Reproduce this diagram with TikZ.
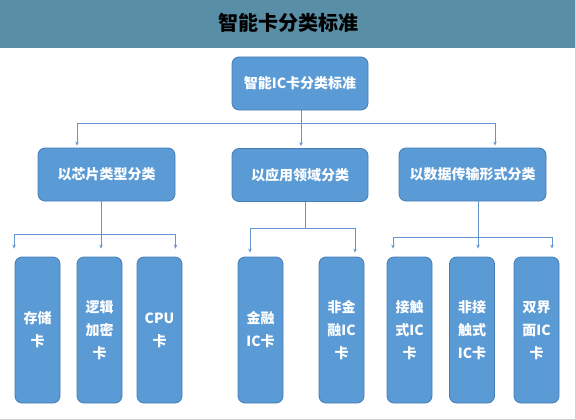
\documentclass[tikz,border=0pt]{standalone}
\usepackage{fontspec}
\setmainfont{Noto Sans CJK SC}
\usetikzlibrary{arrows.meta}
\definecolor{barteal}{RGB}{88,143,166}
\definecolor{boxblue}{RGB}{91,155,213}
\definecolor{boxedge}{RGB}{70,125,180}
\definecolor{linkblue}{RGB}{100,150,205}
\tikzset{
	box/.style={draw=boxedge,fill=boxblue,line width=0.8pt,rounded corners=7pt,
		text=white,font=\fontsize{14}{23}\selectfont\bfseries,align=center,inner sep=0pt},
	leaf/.style={box,minimum width=45pt,minimum height=146pt},
	link/.style={draw=linkblue,line width=0.7pt},
}

\begin{document}
\begin{tikzpicture}[x=1pt,y=-1pt,>={Stealth[length=4pt,width=3.5pt]}]
	\useasboundingbox (0,0) rectangle (576,420);
	\fill[barteal] (0,0) rectangle (575,48);
	\draw[gray!35] (575,0) -- (575,419) -- (0,419);
	\node[font=\fontsize{20}{24}\selectfont\bfseries] (title) at (288,23) {智能卡分类标准};
	\node[box,minimum width=136pt,minimum height=53pt] (root) at (300,83.5) {智能IC卡分类标准};
	\node[box,minimum width=137pt,minimum height=53pt] (c1) at (106.5,174.5) {以芯片类型分类};
	\node[box,minimum width=136pt,minimum height=53pt] (c2) at (300,175) {以应用领域分类};
	\node[box,minimum width=147pt,minimum height=53pt] (c3) at (472.5,174.5) {以数据传输形式分类};
	\node[leaf] (l1) at (37.5,330) {存储\\卡};
	\node[leaf] (l2) at (99.5,330) {逻辑\\加密\\卡};
	\node[leaf] (l3) at (159.5,330) {CPU\\卡};
	\node[leaf] (l4) at (260.5,330) {金融\\IC卡};
	\node[leaf] (l5) at (341.5,330) {非金\\融IC\\卡};
	\node[leaf] (l6) at (409.5,330) {接触\\式IC\\卡};
	\node[leaf] (l7) at (472,330) {非接\\触式\\IC卡};
	\node[leaf] (l8) at (536.5,330) {双界\\面IC\\卡};
	% branch points
	\coordinate (j0) at (301,123);
	\coordinate (j1) at (101,234);
	\coordinate (j2) at (305,228);
	\coordinate (j3) at (478,237);
	% first level
	\draw[link] (root.south -| j0) -- (j0);
	\draw[link,->,shorten >=2pt] (j0) -| ([xshift=-29.5pt]c1.north);
	\draw[link,->,shorten >=2pt] (j0) -- (c2.north -| j0);
	\draw[link,->,shorten >=2pt] (j0) -| ([xshift=22.5pt]c3.north);
	% chip type
	\draw[link] (c1.south -| j1) -- (j1);
	\draw[link,->,shorten >=8pt] (j1) -| ([xshift=-23.5pt]l1.north);
	\draw[link,->,shorten >=8pt] (j1) -- (l2.north -| j1);
	\draw[link,->,shorten >=8pt] (j1) -| ([xshift=16pt]l3.north);
	% application
	\draw[link] (c2.south -| j2) -- (j2);
	\draw[link,->,shorten >=4pt] (j2) -| ([xshift=-10.5pt]l4.north);
	\draw[link,->,shorten >=4pt] (j2) -| ([xshift=13.5pt]l5.north);
	% transmission
	\draw[link] (c3.south -| j3) -- (j3);
	\draw[link,->,shorten >=8pt] (j3) -| ([xshift=-16.5pt]l6.north);
	\draw[link,->,shorten >=8pt] (j3) -- (l7.north -| j3);
	\draw[link,->,shorten >=8pt] (j3) -| ([xshift=15.5pt]l8.north);
\end{tikzpicture}
\end{document}
